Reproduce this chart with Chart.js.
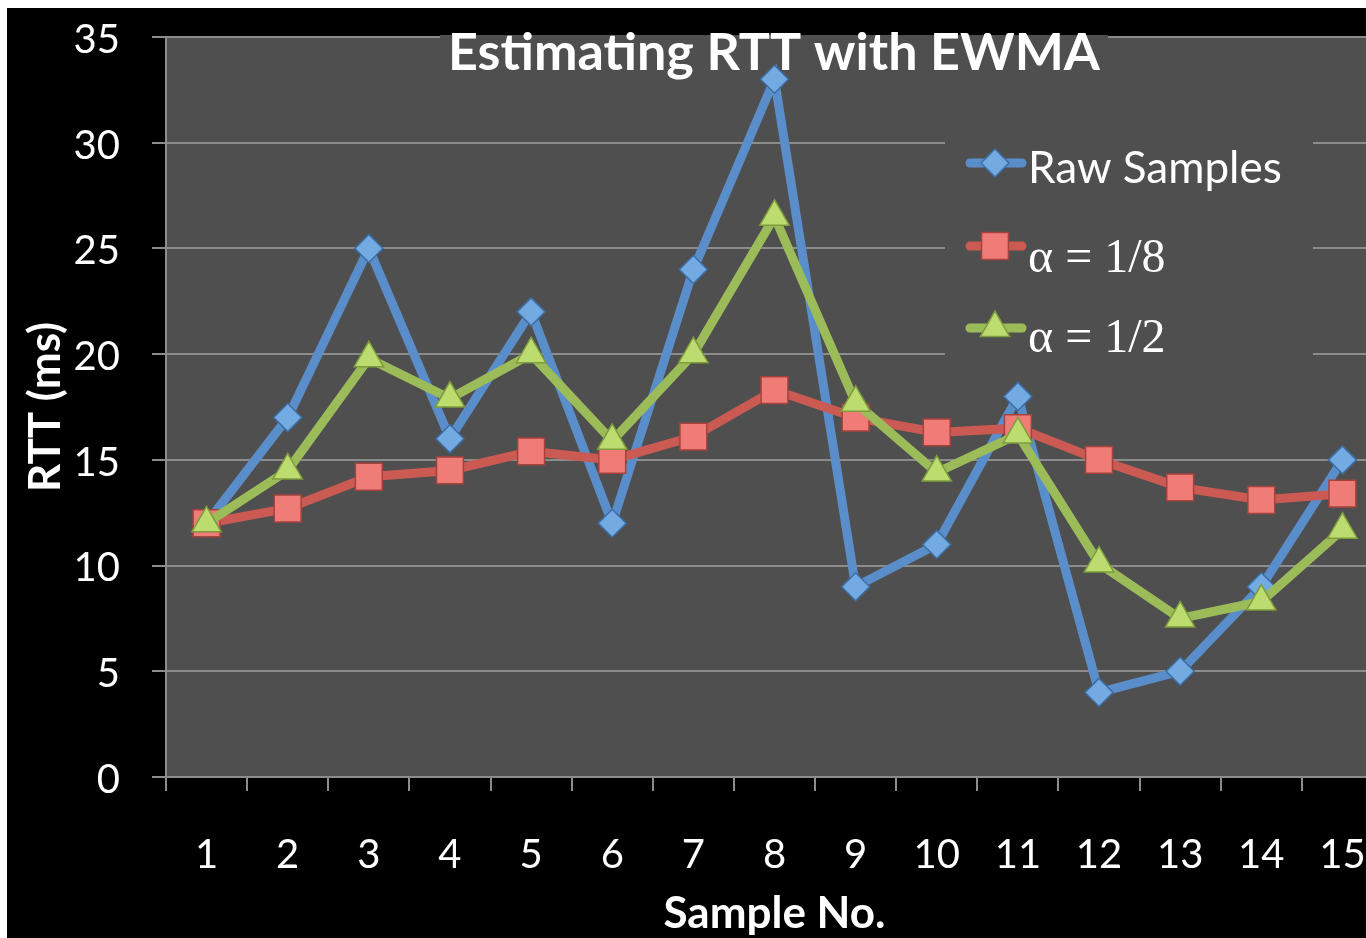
<!DOCTYPE html>
<html>
<head>
<meta charset="utf-8">
<script src="https://cdn.jsdelivr.net/npm/chart.js@4.4.0/dist/chart.umd.min.js"></script>
<style>
    html, body { margin: 0; padding: 0; background: #fff; overflow: hidden; }
    #wrap { position: absolute; left: 7px; top: 8px; width: 1400px; height: 934px; background: #000; }
</style>
</head>
<body>
<div id="wrap"><canvas id="rttChart"></canvas></div>
<script>
var samples = ['1', '2', '3', '4', '5', '6', '7', '8', '9', '10', '11', '12', '13', '14', '15'];
var rawSamples = [12, 17, 25, 16, 22, 12, 24, 33, 9, 11, 18, 4, 5, 9, 15];
var alphaEighth = [12, 12.7, 14.2, 14.5, 15.4, 15, 16.1, 18.3, 17, 16.3, 16.5, 15, 13.7, 13.1, 13.4];
var alphaHalf = [12, 14.5, 19.8, 17.9, 20, 15.9, 20, 26.5, 17.7, 14.4, 16.2, 10.1, 7.5, 8.3, 11.7];
var yTicks = [0, 5, 10, 15, 20, 25, 30, 35];

var plotBg = '#4f4f4f';
var gridGray = '#8c8c8c';

// plot background, title box and legend box (drawn over the grid, under the lines)
var decor = {
    id: 'decor',
    beforeDraw: function (chart) {
        var a = chart.chartArea, ctx = chart.ctx;
        ctx.save();
        ctx.fillStyle = plotBg;
        ctx.fillRect(a.left, a.top, a.right - a.left, a.bottom - a.top);
        ctx.restore();
    },
    beforeDatasetsDraw: function (chart) {
        var ctx = chart.ctx;
        ctx.save();
        ctx.fillStyle = plotBg;
        ctx.fillRect(433, 27, 668, 46);
        ctx.fillRect(938, 112, 368, 250);

        ctx.fillStyle = '#fff';
        ctx.textAlign = 'center';
        ctx.textBaseline = 'alphabetic';
        ctx.font = 'bold 52px Lato';
        ctx.fillText('Estimating RTT with EWMA', 767, 62);

        var rows = [
            { ds: 0, y: 155, text: 'Raw Samples', font: '44px Lato', base: 175 },
            { ds: 1, y: 238, text: '\u03b1 = 1/8', font: '48px "Liberation Serif"', base: 264 },
            { ds: 2, y: 320, text: '\u03b1 = 1/2', font: '48px "Liberation Serif"', base: 344 }
        ];
        rows.forEach(function (r) {
            var d = chart.data.datasets[r.ds];
            ctx.strokeStyle = d.borderColor;
            ctx.lineWidth = 9;
            ctx.lineCap = 'round';
            ctx.beginPath();
            ctx.moveTo(963, r.y);
            ctx.lineTo(1015, r.y);
            ctx.stroke();
            ctx.fillStyle = d.pointBackgroundColor;
            ctx.strokeStyle = d.pointBorderColor;
            ctx.lineWidth = d.pointBorderWidth;
            Chart.helpers.drawPoint(ctx, { pointStyle: d.pointStyle, radius: d.pointRadius, rotation: 0, borderWidth: d.pointBorderWidth }, 988, r.y);
            ctx.fillStyle = '#fff';
            ctx.textAlign = 'left';
            ctx.font = r.font;
            ctx.fillText(r.text, 1021, r.base);
        });
        ctx.restore();
    }
};

var ctx = document.getElementById('rttChart').getContext('2d');
var rttChart = new Chart(ctx, {
    type: 'line',
    data: {
        labels: samples,
        datasets: [{
            label: 'Raw Samples',
            data: rawSamples,
            order: 3,
            borderColor: '#5a8ecb',
            borderWidth: 9,
            pointStyle: 'rectRot',
            pointRadius: 14,
            pointBackgroundColor: '#74aae2',
            pointBorderColor: '#3c6ea6',
            pointBorderWidth: 1.5
        }, {
            label: '\u03b1 = 1/8',
            data: alphaEighth,
            order: 2,
            borderColor: '#cb5a52',
            borderWidth: 9,
            pointStyle: 'rect',
            pointRadius: 19,
            pointBackgroundColor: '#f07c78',
            pointBorderColor: '#a6423d',
            pointBorderWidth: 1.5
        }, {
            label: '\u03b1 = 1/2',
            data: alphaHalf,
            order: 1,
            borderColor: '#9cbc5a',
            borderWidth: 9,
            pointStyle: 'triangle',
            pointRadius: 17,
            pointBackgroundColor: '#bddc70',
            pointBorderColor: '#7e9c3c',
            pointBorderWidth: 1.5
        }]
    },
    options: {
        responsive: true,
        maintainAspectRatio: false,
        animation: false,
        layout: { padding: { top: 29, right: 24, left: 0, bottom: 0 } },
        elements: { line: { tension: 0 } },
        scales: {
            x: {
                offset: true,
                afterFit: function (scale) {
                    scale.height = 165;
                    scale.paddingLeft = 0;
                    scale.paddingRight = 0;
                },
                grid: {
                    offset: true,
                    drawOnChartArea: false,
                    drawTicks: true,
                    tickLength: 14,
                    color: gridGray,
                    lineWidth: 2
                },
                border: { color: gridGray, width: 2 },
                ticks: { color: '#fff', font: { family: 'Lato', size: 40 }, padding: 40, maxRotation: 0, autoSkip: false },
                title: {
                    display: true,
                    text: 'Sample No.',
                    color: '#fff',
                    font: { family: 'Lato', size: 44, weight: 'bold' },
                    padding: { top: 0, bottom: 2 }
                }
            },
            y: {
                min: 0,
                max: 35,
                afterFit: function (scale) {
                    scale.width = 159;
                    scale.paddingTop = 0;
                    scale.paddingBottom = 0;
                },
                afterBuildTicks: function (axis) {
                    axis.ticks = yTicks.map(function (v) { return { value: v }; });
                },
                grid: { color: gridGray, lineWidth: 2, tickLength: 14 },
                border: { color: gridGray, width: 2 },
                ticks: { color: '#fff', font: { family: 'Lato', size: 40 }, padding: 32, labelOffset: 3 },
                title: {
                    display: true,
                    text: 'RTT (ms)',
                    color: '#fff',
                    font: { family: 'Lato', size: 44, weight: 'bold' },
                    padding: { top: 12, bottom: 0 }
                }
            }
        },
        plugins: {
            legend: { display: false },
            tooltip: { enabled: false }
        }
    },
    plugins: [decor]
});
</script>
</body>
</html>
